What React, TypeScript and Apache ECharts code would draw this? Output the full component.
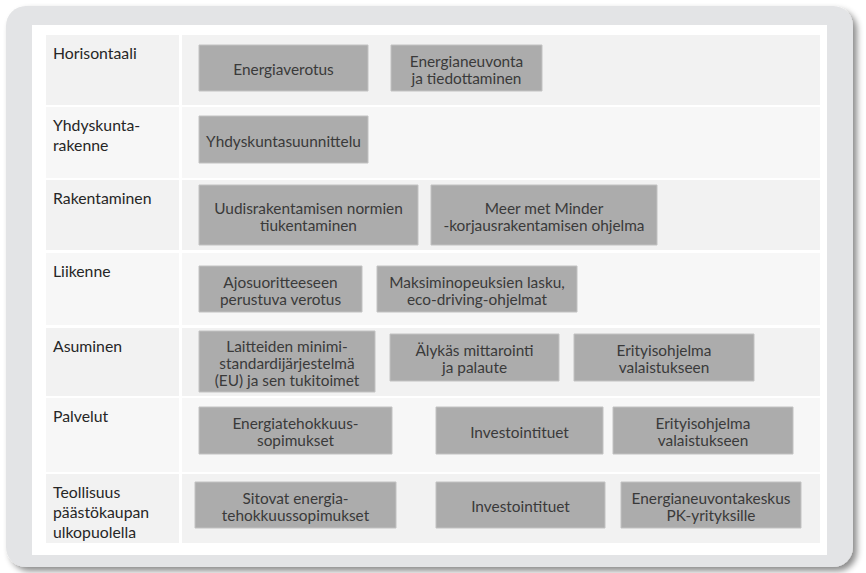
import React, { useEffect, useRef } from "react";
import * as echarts from "echarts";

// Row categories (policy sectors)
const rowLabels: string[] = [
  "Horisontaali",
  "Yhdyskunta-\nrakenne",
  "Rakentaminen",
  "Liikenne",
  "Asuminen",
  "Palvelut",
  "Teollisuus\npäästökaupan\nulkopuolella",
];

// Measures per row
const horisontaali = ["Energiaverotus", "Energianeuvonta\nja tiedottaminen"];
const yhdyskuntarakenne = ["Yhdyskuntasuunnittelu"];
const rakentaminen = [
  "Uudisrakentamisen normien\ntiukentaminen",
  "Meer met Minder\n-korjausrakentamisen ohjelma",
];
const liikenne = [
  "Ajosuoritteeseen\nperustuva verotus",
  "Maksiminopeuksien lasku,\neco-driving-ohjelmat",
];
const asuminen = [
  "Laitteiden minimi-\nstandardijärjestelmä\n(EU) ja sen tukitoimet",
  "Älykäs mittarointi\nja palaute",
  "Erityisohjelma\nvalaistukseen",
];
const palvelut = ["Energiatehokkuus-\nsopimukset", "Investointituet", "Erityisohjelma\nvalaistukseen"];
const teollisuus = [
  "Sitovat energia-\ntehokkuussopimukset",
  "Investointituet",
  "Energianeuvontakeskus\nPK-yrityksille",
];
const rowMeasures: string[][] = [
  horisontaali,
  yhdyskuntarakenne,
  rakentaminen,
  liikenne,
  asuminen,
  palvelut,
  teollisuus,
];

// ---- Layout (positions / sizes only) ----
const rowBands: [number, number][] = [
  [35, 105],
  [107, 178],
  [180, 250],
  [253, 325],
  [328, 396],
  [398, 472],
  [474, 543],
];
// [x0, x1, y0, y1] for each box, per row
const boxLayout: [number, number, number, number][][] = [
  [[199, 368, 45, 91], [391, 542, 45, 91]],
  [[199, 368, 116, 163]],
  [[199, 418, 185, 245], [431, 657, 185, 245]],
  [[199, 362, 266, 312], [377, 577, 266, 312]],
  [[199, 375, 331, 392], [390, 559, 334, 381], [574, 754, 334, 381]],
  [[199, 392, 407, 454], [436, 603, 407, 454], [613, 793, 407, 454]],
  [[195, 396, 482, 528], [436, 605, 482, 528], [621, 801, 482, 528]],
];

const LABEL_X0 = 46;
const LABEL_X1 = 179;
const CONTENT_X0 = 182;
const CONTENT_X1 = 820;

export default function App() {
  const ref = useRef<HTMLDivElement>(null);

  useEffect(() => {
    if (!ref.current) return;
    const chart = echarts.init(ref.current, undefined, { renderer: "svg" });
    const elements: any[] = [];

    // Outer gray rounded panel with shadow
    elements.push({
      type: "rect",
      shape: { x: 6, y: 6, width: 847, height: 561, r: 20 },
      style: {
        fill: "#e3e4e6",
        shadowBlur: 6,
        shadowOffsetX: 4,
        shadowOffsetY: 4,
        shadowColor: "rgba(0,0,0,0.45)",
      },
    });
    // White inner panel
    elements.push({
      type: "rect",
      shape: { x: 32, y: 25, width: 795, height: 530 },
      style: { fill: "#ffffff" },
    });

    rowLabels.forEach((label, i) => {
      const [y0, y1] = rowBands[i];
      const bg = i % 2 === 0 ? "#f2f2f2" : "#f7f7f7";
      elements.push({
        type: "rect",
        shape: { x: LABEL_X0, y: y0, width: LABEL_X1 - LABEL_X0, height: y1 - y0 },
        style: { fill: bg },
      });
      elements.push({
        type: "rect",
        shape: { x: CONTENT_X0, y: y0, width: CONTENT_X1 - CONTENT_X0, height: y1 - y0 },
        style: { fill: bg },
      });
      elements.push({
        type: "text",
        x: 53,
        y: y0 + 7,
        style: {
          text: label,
          font: "15.8px Lato",
          lineHeight: 20,
          fill: "#262626",
          align: "left",
          verticalAlign: "top",
        },
      });

      rowMeasures[i].forEach((m, j) => {
        const [bx0, bx1, by0, by1] = boxLayout[i][j];
        elements.push({
          type: "rect",
          shape: { x: bx0, y: by0, width: bx1 - bx0, height: by1 - by0 },
          style: { fill: "#acacac", stroke: "#c2c2c2", lineWidth: 1 },
        });
        elements.push({
          type: "text",
          x: (bx0 + bx1) / 2,
          y: (by0 + by1) / 2 + 1,
          style: {
            text: m,
            font: "15.4px Lato",
            lineHeight: 17,
            fill: "#3a3a3a",
            align: "center",
            verticalAlign: "middle",
          },
        });
      });
    });

    chart.setOption({
      animation: false,
      backgroundColor: "#ffffff",
      graphic: { elements },
      series: [],
    });

    return () => chart.dispose();
  }, []);

  return (
    <div
      ref={ref}
      style={{ position: "fixed", left: 0, top: 0, width: 866, height: 573 }}
    />
  );
}
